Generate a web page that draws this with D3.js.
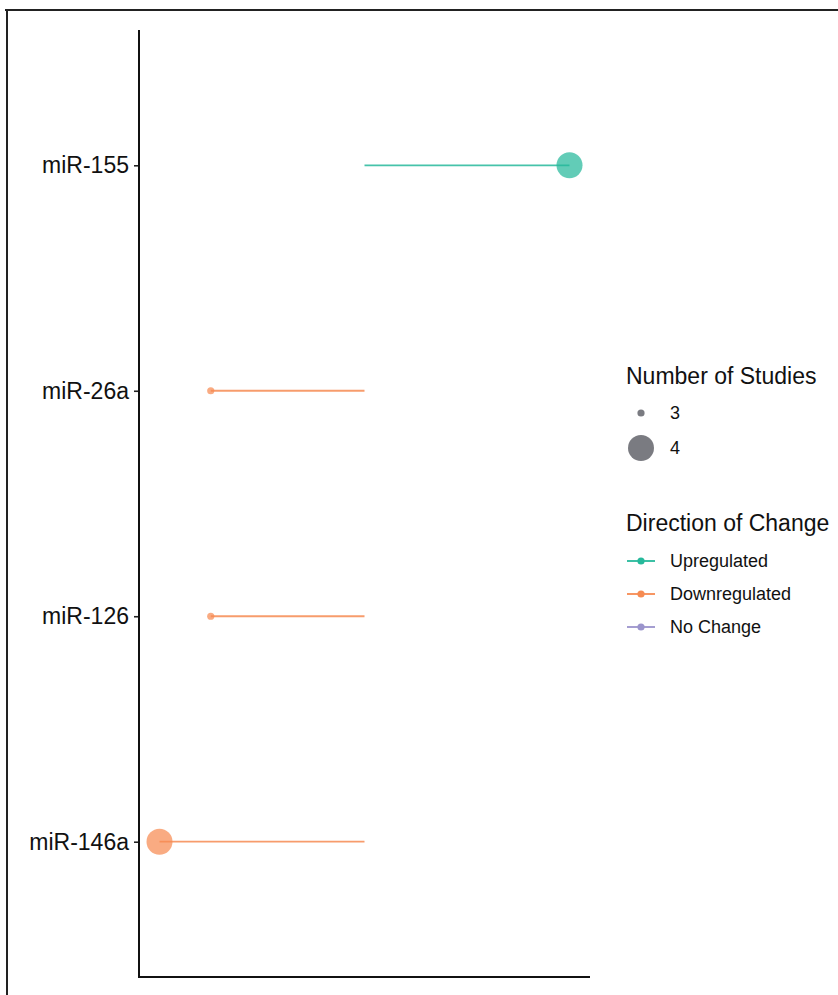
<!DOCTYPE html>
<html lang="en">
	<head>
		<meta charset="UTF-8" />
		<title>miRNA direction of change</title>
		<script src="https://d3js.org/d3.v7.min.js"></script>
		<style>
			body {
				margin: 0;
				background: #fff;
				font-family: "Liberation Sans", Arial, sans-serif;
			}
		</style>
	</head>
	<body>
		<svg id="chart"></svg>
		<script>
			// chart values
			const mirnas = ["miR-155", "miR-26a", "miR-126", "miR-146a"];
			const foldChange = [2, -1.5, -1.5, -2];
			const nStudies = [4, 3, 3, 4];
			const direction = ["Upregulated", "Downregulated", "Downregulated", "Downregulated"];
			const directionLevels = ["Upregulated", "Downregulated", "No Change"];
			const sizeLevels = [3, 4];

			const width = 838;
			const height = 995;
			const plot = { left: 139, right: 590, top: 30, bottom: 977 };

			const svg = d3.select("#chart").attr("width", width).attr("height", height);

			// frame around the figure
			svg.append("line").attr("x1", 5).attr("x2", width).attr("y1", 10).attr("y2", 10)
				.attr("stroke", "#222").attr("stroke-width", 2);
			svg.append("line").attr("x1", 7).attr("x2", 7).attr("y1", 10).attr("y2", height)
				.attr("stroke", "#222").attr("stroke-width", 2);

			const x = d3.scaleLinear().domain([-2.2, 2.2]).range([plot.left, plot.right]);
			const y = d3.scalePoint().domain(mirnas).range([plot.top, plot.bottom]).padding(0.6);
			const color = d3.scaleOrdinal().domain(directionLevels)
				.range(["#26b99b", "#f68b52", "#9b94cc"]);
			const radius = d3.scaleLinear().domain([3, 4]).range([3.6, 13]);

			const data = mirnas.map((m, i) => ({
				name: m, fc: foldChange[i], n: nStudies[i], dir: direction[i]
			}));

			// segments from zero
			svg.append("g").selectAll("line").data(data).join("line")
				.attr("x1", x(0)).attr("x2", (d) => x(d.fc))
				.attr("y1", (d) => y(d.name)).attr("y2", (d) => y(d.name))
				.attr("stroke", (d) => color(d.dir))
				.attr("stroke-width", 1.8)
				.attr("stroke-opacity", 0.85);

			svg.append("g").selectAll("circle").data(data).join("circle")
				.attr("cx", (d) => x(d.fc)).attr("cy", (d) => y(d.name))
				.attr("r", (d) => radius(d.n))
				.attr("fill", (d) => color(d.dir))
				.attr("fill-opacity", 0.72);

			// y axis
			const yAxis = svg.append("g")
				.attr("transform", `translate(${plot.left},0)`)
				.call(d3.axisLeft(y).tickSize(5).tickPadding(5));
			yAxis.select(".domain").remove();
			yAxis.selectAll(".tick line").attr("stroke", "#222").attr("stroke-width", 1.6);
			yAxis.selectAll("text")
				.attr("font-family", "Liberation Sans, Arial, sans-serif")
				.attr("font-size", 23).attr("fill", "#111");

			svg.append("line").attr("x1", plot.left).attr("x2", plot.left)
				.attr("y1", plot.top).attr("y2", plot.bottom + 1)
				.attr("stroke", "#111").attr("stroke-width", 2);
			svg.append("line").attr("x1", plot.left - 1).attr("x2", plot.right)
				.attr("y1", plot.bottom).attr("y2", plot.bottom)
				.attr("stroke", "#111").attr("stroke-width", 2);

			// legends
			const leg = svg.append("g").attr("font-family", "Liberation Sans, Arial, sans-serif");
			leg.append("text").attr("x", 626).attr("y", 384)
				.attr("font-size", 23).attr("fill", "#111").text("Number of Studies");

			const sizeY = d3.scalePoint().domain(sizeLevels).range([413, 448]);
			const sizeKey = leg.append("g").selectAll("g").data(sizeLevels).join("g")
				.attr("transform", (d) => `translate(641,${sizeY(d)})`);
			sizeKey.append("circle").attr("r", (d) => radius(d))
				.attr("fill", "#55565d").attr("fill-opacity", 0.78);
			sizeKey.append("text").attr("x", 29).attr("dy", "0.36em")
				.attr("font-size", 18).attr("fill", "#111").text((d) => d);

			leg.append("text").attr("x", 626).attr("y", 531)
				.attr("font-size", 23).attr("fill", "#111").text("Direction of Change");

			const dirY = d3.scalePoint().domain(directionLevels).range([561, 627]);
			const dirKey = leg.append("g").selectAll("g").data(directionLevels).join("g")
				.attr("transform", (d) => `translate(641,${dirY(d)})`);
			dirKey.append("line").attr("x1", -14).attr("x2", 14)
				.attr("stroke", (d) => color(d)).attr("stroke-width", 1.8);
			dirKey.append("circle").attr("r", 3.6).attr("fill", (d) => color(d));
			dirKey.append("text").attr("x", 29).attr("dy", "0.36em")
				.attr("font-size", 18).attr("fill", "#111").text((d) => d);
		</script>
	</body>
</html>
